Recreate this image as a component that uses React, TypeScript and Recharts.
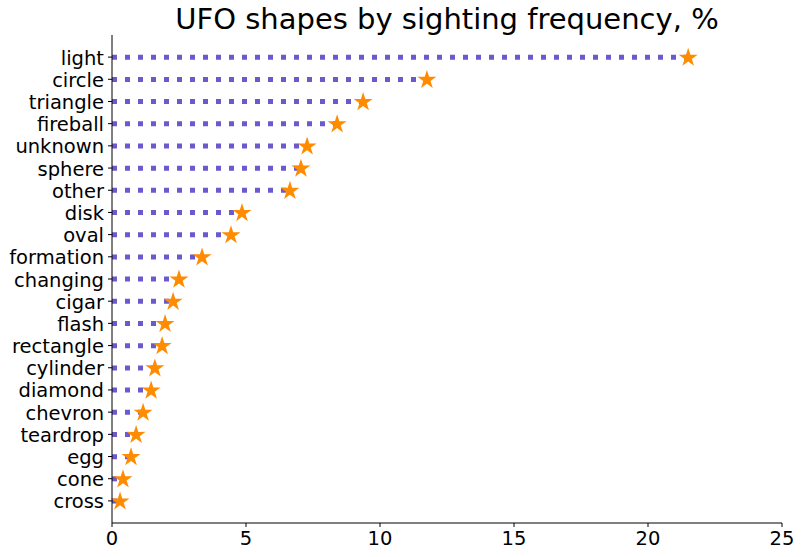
import { ComposedChart, Bar, XAxis, YAxis } from 'recharts'

const shapes = ['light', 'circle', 'triangle', 'fireball', 'unknown', 'sphere', 'other', 'disk', 'oval', 'formation', 'changing', 'cigar', 'flash', 'rectangle', 'cylinder', 'diamond', 'chevron', 'teardrop', 'egg', 'cone', 'cross']
const freq = [21.5, 11.75, 9.37, 8.4, 7.28, 7.05, 6.64, 4.85, 4.44, 3.36, 2.5, 2.28, 1.98, 1.87, 1.6, 1.46, 1.16, 0.9, 0.71, 0.41, 0.3]
const xTicks = [0, 5, 10, 15, 20, 25]

const data = shapes.map((s, i) => ({ shape: s, freq: freq[i] }))

const FONT = '"DejaVu Sans", sans-serif'

function starPoints(cx: number, cy: number, r: number) {
    const inner = r * 0.38
    const pts: string[] = []
    for (let i = 0; i < 10; i++) {
        const rad = i % 2 === 0 ? r : inner
        const a = -Math.PI / 2 + (i * Math.PI) / 5
        pts.push(`${cx + rad * Math.cos(a)},${cy + rad * Math.sin(a)}`)
    }
    return pts.join(' ')
}

// dotted stem from 0 to value, star on the end
function Lollipop(props: any) {
    const { x, y, width, height } = props
    const cy = y + height / 2
    const x2 = x + width
    return (
        <g>
            <line x1={x} y1={cy} x2={x2} y2={cy} stroke="#6a5acd" strokeWidth={5} strokeDasharray="5 8" />
            <polygon points={starPoints(x2, cy + 0.5, 10)} fill="#ff8c00" />
        </g>
    )
}

const renderXTick = (props: any) => (
    <text x={props.x} y={props.y + 15} textAnchor="middle" style={{ fontSize: '19.5px', fontFamily: FONT, fill: '#000' }}>
        {props.payload.value}
    </text>
)

const renderYTick = (props: any) => (
    <text x={props.x} y={props.y + 7.5} textAnchor="end" style={{ fontSize: '19.5px', fontFamily: FONT, fill: '#000' }}>
        {props.payload.value}
    </text>
)

export default function App() {
    return (
        <div style={{ position: 'absolute', left: 0, top: 0, width: 801, height: 557, background: '#fff', fontFamily: FONT }}>
            <div style={{ position: 'absolute', left: 112, width: 670, top: 2, textAlign: 'center', fontSize: 29, color: '#000' }}>
                UFO shapes by sighting frequency, %
            </div>
            <ComposedChart
                width={801}
                height={557}
                data={data}
                layout="vertical"
                margin={{ top: 35, right: 19, bottom: 0, left: 0 }}
            >
                <XAxis
                    type="number"
                    domain={[0, 25]}
                    ticks={xTicks}
                    height={34}
                    tick={renderXTick}
                    axisLine={{ stroke: '#000' }}
                    tickLine={{ stroke: '#000' }}
                    tickSize={4}
                    tickMargin={3}
                />
                <YAxis
                    type="category"
                    dataKey="shape"
                    width={112}
                    padding={{ top: 11, bottom: 11 }}
                    tick={renderYTick}
                    axisLine={{ stroke: '#000' }}
                    tickLine={{ stroke: '#000' }}
                    tickSize={4}
                    tickMargin={4}
                    interval={0}
                />
                <Bar dataKey="freq" shape={Lollipop} isAnimationActive={false} />
            </ComposedChart>
        </div>
    )
}
